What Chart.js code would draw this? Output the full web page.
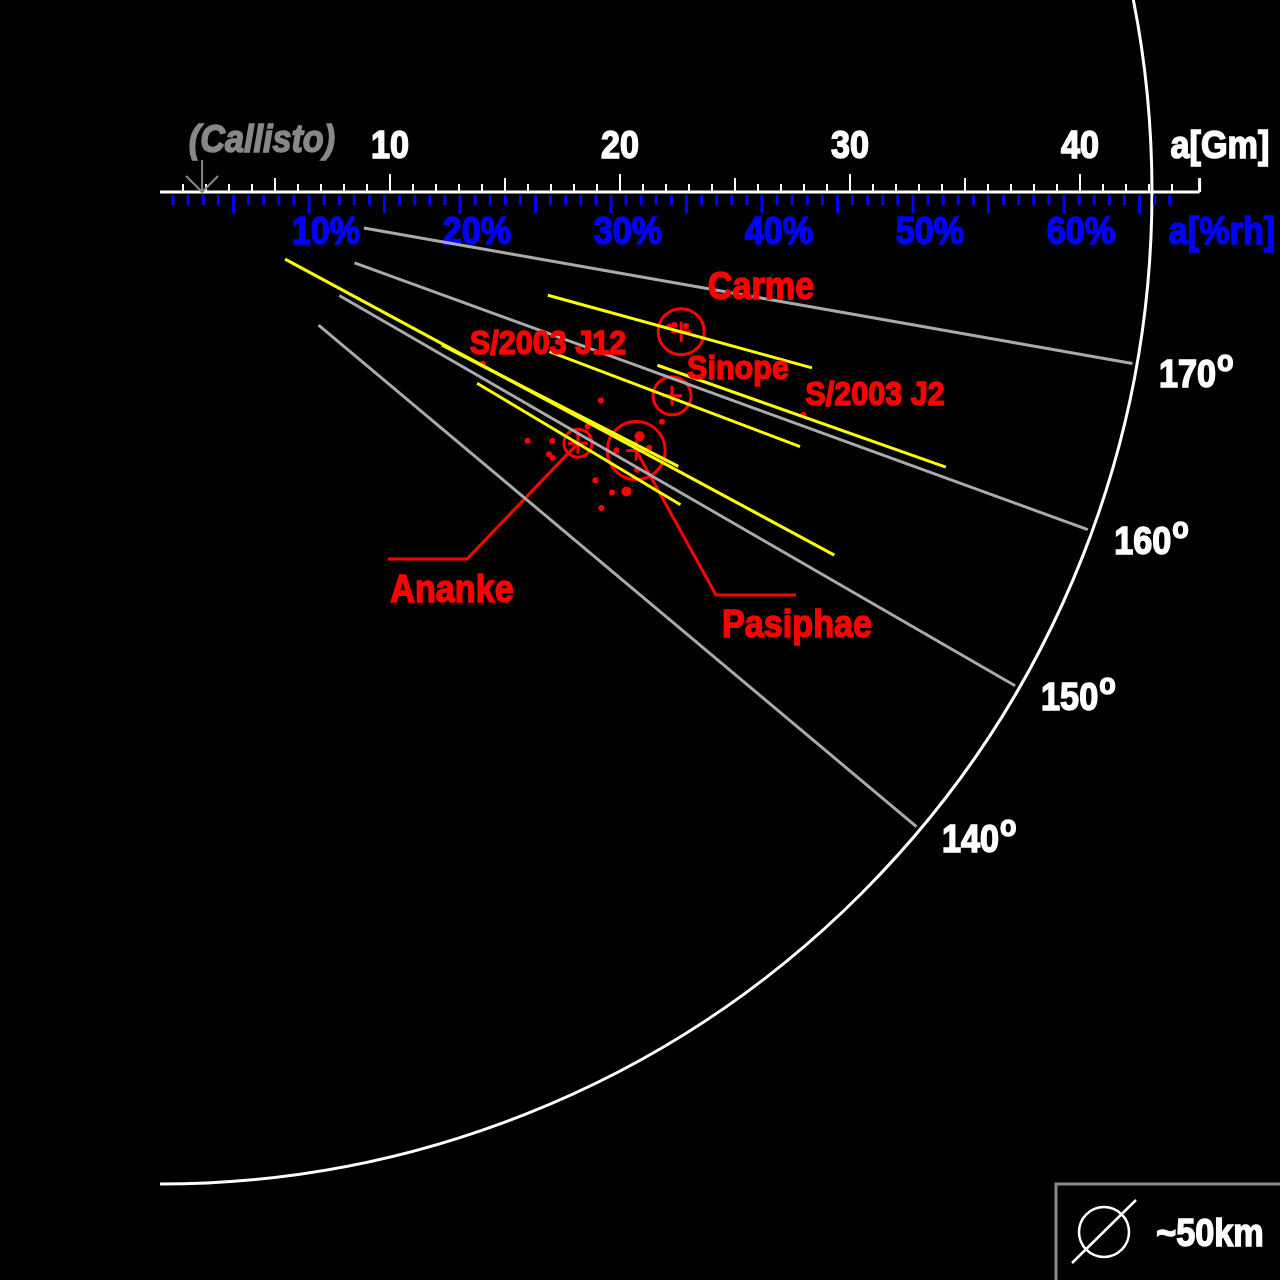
<!DOCTYPE html>
<html>
<head>
<meta charset="utf-8">
<script src="https://cdn.jsdelivr.net/npm/chart.js@4/dist/chart.umd.min.js"></script>
<style>
  body { margin:0; background:#000; }
  canvas { display:block; }
</style>
</head>
<body>
<canvas id="myChart" width="1280" height="1280"></canvas>
<script>
// main moons: semi-major axis [Gm], inclination [deg], diameter [km]
var moonNames = ['Carme', 'Sinope', 'Pasiphae', 'Ananke'];
var moonA = [23.46, 23.96, 23.56, 21.2];
var moonInc = [165.0, 158.3, 151.5, 149.0];
var moonDiam = [46, 38, 58, 28];

// small moons
var smallA = [21.2, 24.0, 19.3, 20.2, 20.4, 20.6, 22.7, 23.6, 24.1, 23.6, 22.8, 24.0, 23.4, 24.0, 21.2, 22.9, 23.6, 23.1, 15.9, 29.6];
var smallInc = [154.7, 155.4, 145.9, 147.6, 146.0, 145.9, 146.5, 146.4, 147.3, 144.4, 150.5, 149.8, 153.0, 152.4, 151.3, 165.2, 165.7, 165.5, 152.0, 160.9];
var smallSize = [3, 3, 3, 3, 3, 3, 3, 3, 5, 3, 3, 3, 5, 3, 3, 3, 3, 3, 3, 3];

// ranges (pericentre .. apocentre): [a1, inc1, a2, inc2]
var rangeSinope = [18.3, 157.7, 29.95, 158.3];
var rangeCarme = [17.45, 165.1, 29.36, 164.9];
var rangeJ2 = [22.9, 160.8, 36.2, 160.7];
var rangePasiphae = [6.17, 151.8, 33.3, 151.7];
var rangeJ12 = [13.95, 151.5, 25.5, 152.1];
var rangeAnanke = [16.1, 148.9, 26.4, 149.0];

var gridDeg = [140, 150, 160, 170];
var gridFrom = 9.0;
var outerR = 43.13;
var gmTicks = [10, 20, 30, 40];
var pctTicks = [10, 20, 30, 40, 50, 60];
var gmPerPct = 0.6565;
var callistoA = 1.83;

function pol(a, inc){
  var t = (180 - inc) * Math.PI / 180;
  return {x: a * Math.cos(t), y: -a * Math.sin(t)};
}
function seg(r){ return [pol(r[0], r[1]), pol(r[2], r[3])]; }

var datasets = [];
gridDeg.forEach(function(d){
  datasets.push({type:'line', data:[pol(gridFrom, d), pol(outerR - 0.2, d)], borderColor:'#aaaaaa', borderWidth:3, pointRadius:0});
});
[rangeSinope, rangeCarme, rangeJ2, rangePasiphae, rangeJ12, rangeAnanke].forEach(function(r){
  datasets.push({type:'line', data:seg(r), borderColor:'#ffff00', borderWidth:3, pointRadius:0});
});
var smallPts = smallA.map(function(a, i){ return pol(a, smallInc[i]); });
datasets.push({type:'scatter', data:smallPts, pointRadius:smallSize, backgroundColor:'#ff0000', borderWidth:0});
var moonPts = moonA.map(function(a, i){ return pol(a, moonInc[i]); });
datasets.push({type:'scatter', data:moonPts, pointRadius:moonDiam.map(function(d){ return d/2; }), backgroundColor:'rgba(0,0,0,0)', borderColor:'#ff0000', borderWidth:3});
datasets.push({type:'scatter', data:moonPts, pointStyle:'cross', pointRadius:10, borderColor:'#ff0000', borderWidth:3});

function txt(ctx, s, x, y, color, size, align, italic){
  ctx.font = (italic ? 'italic ' : '') + 'bold ' + size + 'px "Liberation Sans", Arial, sans-serif';
  ctx.textAlign = align || 'center';
  ctx.textBaseline = 'middle';
  ctx.fillStyle = color;
  ctx.strokeStyle = color;
  ctx.lineWidth = 1.5;
  ctx.save();
  ctx.translate(x, y);
  ctx.scale(0.9, 1);
  ctx.fillText(s, 0, 0);
  ctx.strokeText(s, 0, 0);
  ctx.restore();
  return ctx.measureText(s).width * 0.9;
}

var overlay = {
  id:'overlay',
  beforeDatasetsDraw: function(chart){
    var ctx = chart.ctx, sx = chart.scales.x, sy = chart.scales.y;
    var ox = sx.getPixelForValue(0), oy = sy.getPixelForValue(0);
    var rpx = sx.getPixelForValue(outerR) - ox;
    ctx.save();
    ctx.fillStyle = '#000';
    ctx.fillRect(0, 0, chart.width, chart.height);
    // outer arc
    ctx.strokeStyle = '#fff'; ctx.lineWidth = 3;
    ctx.beginPath(); ctx.arc(ox, oy, rpx, -Math.PI/2, Math.PI/2); ctx.stroke();
    // Gm axis
    var endX = sx.getPixelForValue(45.2);
    ctx.beginPath(); ctx.moveTo(ox, oy); ctx.lineTo(endX, oy); ctx.stroke();
    ctx.beginPath(); ctx.moveTo(endX, oy); ctx.lineTo(endX, oy - 14); ctx.stroke();
    ctx.lineWidth = 2;
    for (var g = 1; g <= 44; g++){
      var px = sx.getPixelForValue(g);
      var h = g % 10 === 0 ? 18 : (g % 5 === 0 ? 14 : 8);
      ctx.beginPath(); ctx.moveTo(px, oy); ctx.lineTo(px, oy - h); ctx.stroke();
    }
    gmTicks.forEach(function(g){ txt(ctx, String(g), sx.getPixelForValue(g), oy - 44, '#fff', 38); });
    txt(ctx, 'a[Gm]', 1220, oy - 44, '#fff', 38);
    // % axis
    ctx.strokeStyle = '#0000ff'; ctx.lineWidth = 3;
    for (var p = 1; p <= 67; p++){
      var qx = sx.getPixelForValue(p * gmPerPct) - 2;
      var e = p % 5 === 0 ? 18 : 10;
      ctx.beginPath(); ctx.moveTo(qx, oy + 3); ctx.lineTo(qx, oy + 3 + e); ctx.stroke();
    }
    pctTicks.forEach(function(p){ txt(ctx, p + '%', sx.getPixelForValue(p * gmPerPct) + 15, oy + 42, '#0000ff', 38); });
    txt(ctx, 'a[%rh]', 1222, oy + 42, '#0000ff', 38);
    // Callisto marker
    var cx = sx.getPixelForValue(callistoA);
    ctx.strokeStyle = '#888'; ctx.lineWidth = 2;
    ctx.beginPath(); ctx.moveTo(cx, oy - 32); ctx.lineTo(cx, oy);
    ctx.moveTo(cx - 16, oy - 16); ctx.lineTo(cx, oy); ctx.lineTo(cx + 16, oy - 16); ctx.stroke();
    txt(ctx, '(Callisto)', 262, 142, '#888', 38, 'center', true);
    // degree labels
    gridDeg.forEach(function(d){
      var e = pol(outerR, d);
      var x = sx.getPixelForValue(e.x) + 22, y = sy.getPixelForValue(e.y) + 12;
      var w = txt(ctx, String(d), x, y, '#fff', 38, 'left');
      txt(ctx, 'o', x + w + 1, y - 14, '#fff', 30, 'left');
    });
    // leaders
    var an = moonPts[3], pa = moonPts[2];
    ctx.strokeStyle = '#ff0000'; ctx.lineWidth = 3;
    ctx.beginPath(); ctx.moveTo(sx.getPixelForValue(an.x), sy.getPixelForValue(an.y)); ctx.lineTo(467, 559); ctx.lineTo(388, 559); ctx.stroke();
    ctx.beginPath(); ctx.moveTo(sx.getPixelForValue(pa.x), sy.getPixelForValue(pa.y)); ctx.lineTo(716, 595); ctx.lineTo(796, 595); ctx.stroke();
    ctx.restore();
  },
  afterDatasetsDraw: function(chart){
    var ctx = chart.ctx;
    ctx.save();
    txt(ctx, 'Carme', 761, 289, '#ff0000', 38);
    txt(ctx, 'S/2003 J12', 548, 345, '#ff0000', 34);
    txt(ctx, 'Sinope', 738, 370, '#ff0000', 34);
    txt(ctx, 'S/2003 J2', 875, 396, '#ff0000', 34);
    txt(ctx, 'Ananke', 452, 592, '#ff0000', 38);
    txt(ctx, 'Pasiphae', 797, 627, '#ff0000', 38);
    // size legend
    ctx.strokeStyle = '#888'; ctx.lineWidth = 3;
    ctx.beginPath(); ctx.moveTo(1056, 1280); ctx.lineTo(1056, 1184); ctx.lineTo(1280, 1184); ctx.stroke();
    ctx.strokeStyle = '#fff'; ctx.lineWidth = 2.5;
    ctx.beginPath(); ctx.arc(1104, 1232, 25, 0, Math.PI * 2); ctx.stroke();
    ctx.beginPath(); ctx.moveTo(1072, 1263); ctx.lineTo(1136, 1200); ctx.stroke();
    txt(ctx, '~50km', 1210, 1236, '#fff', 38);
    ctx.restore();
  }
};

var ctx = document.getElementById('myChart').getContext('2d');
var myChart = new Chart(ctx, {
  data: {datasets: datasets},
  options: {
    responsive:false, animation:false,
    layout:{padding:0, autoPadding:false},
    plugins:{legend:{display:false}, tooltip:{enabled:false}},
    scales:{
      x:{type:'linear', display:false, min:-160/23, max:1120/23},
      y:{type:'linear', display:false, min:-1088/23, max:192/23}
    }
  },
  plugins:[overlay]
});
</script>
</body>
</html>
